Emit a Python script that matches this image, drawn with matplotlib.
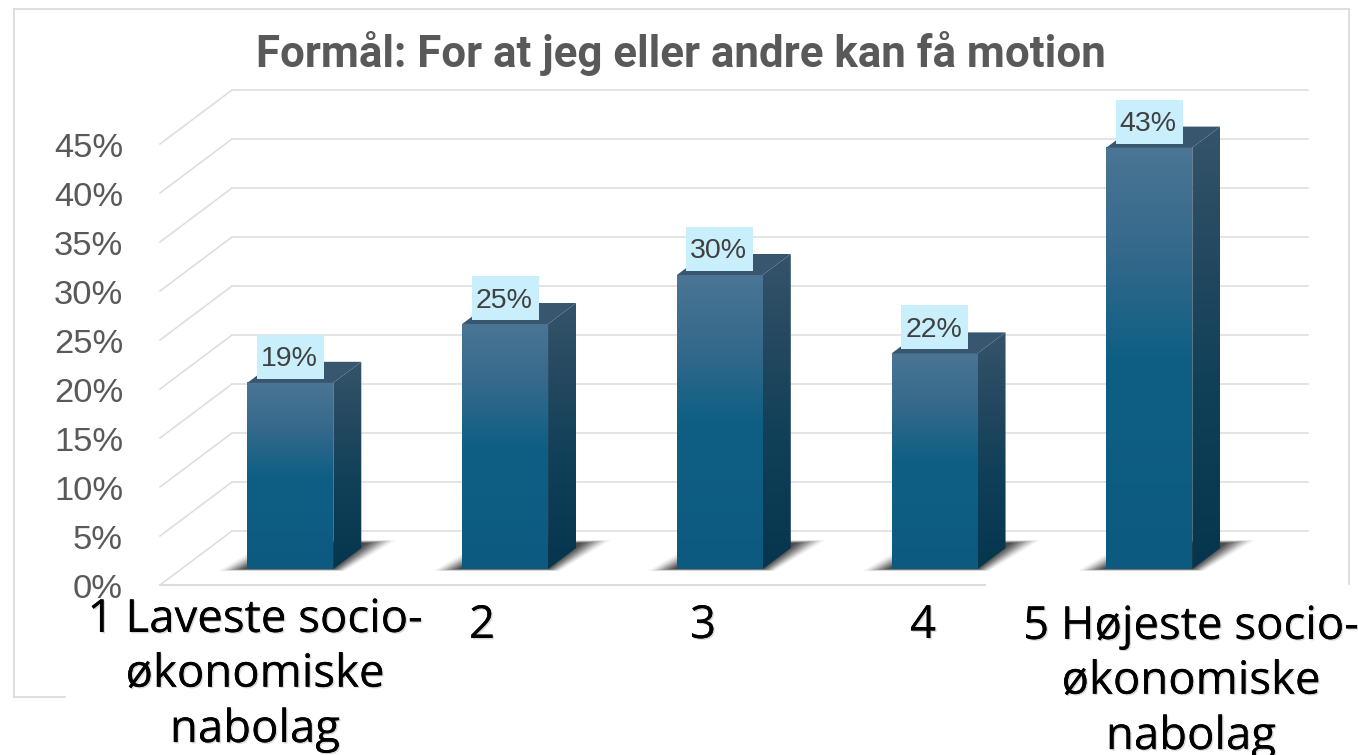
import numpy as np
import matplotlib
matplotlib.use('Agg')
import matplotlib.pyplot as plt
import matplotlib.patheffects as pe
from matplotlib.colors import LinearSegmentedColormap
from matplotlib.lines import Line2D
from matplotlib.patches import Polygon, Rectangle
from matplotlib.transforms import ScaledTranslation

W, H = 1358, 755

title = 'Formål: For at jeg eller andre kan få motion'
values = [19, 25, 30, 22, 43]
value_labels = ['19%', '25%', '30%', '22%', '43%']
y_ticks = [0, 5, 10, 15, 20, 25, 30, 35, 40, 45]
y_labels = ['0%', '5%', '10%', '15%', '20%', '25%', '30%', '35%', '40%', '45%']
cat_labels = ['1 Laveste socio-\nøkonomiske\nnabolag', '2', '3', '4',
              '5 Højeste socio-\nøkonomiske\nnabolag']

# pixel layout of the picture
cat_px = [(255, 675), (482, 626), (703, 626), (923, 626), (1191, 682)]
left, right, base, top = 160, 1308, 585, 144
xpx0, xstep = 269, 214.75
ystep = 9.8
floor_dx, floor_dy = 72, 54

fig = plt.figure(figsize=(W/100, H/100), dpi=100, facecolor='white')
ax = fig.add_axes([left/W, 1-base/H, (right-left)/W, (base-top)/H])
xlim = ((left-xpx0)/xstep, (right-xpx0)/xstep)
ylim = (0, (base-top)/ystep)
ux, uy = floor_dx/xstep, floor_dy/ystep


def proj(x, y, d):
    # d is depth into the floor, 0 front edge, 1 back wall
    return x + d*ux, y + d*uy


grid_c = '#dcdcdc'
for t in y_ticks:
    a = proj(xlim[0], t, 0)
    b = proj(xlim[0], t, 1)
    ax.plot([a[0], b[0]], [a[1], b[1]], color=grid_c, lw=1.1, clip_on=False, zorder=1)
    ax.plot([b[0], xlim[1]], [b[1], b[1]], color=grid_c, lw=1.1, clip_on=False, zorder=1)
ax.plot([xlim[0], (985-xpx0)/xstep], [0, 0], color=grid_c, lw=1.5, clip_on=False, zorder=1)

front_cm = LinearSegmentedColormap.from_list(
    'f', [(0, '#4b7594'), (0.25, '#34698b'), (0.5, '#0f5f85'), (1, '#0d5a80')])
side_cm = LinearSegmentedColormap.from_list(
    's', [(0, '#35546b'), (0.3, '#23485f'), (0.6, '#0f4058'), (1, '#06364d')])
grad = np.linspace(0, 1, 256).reshape(-1, 1)
hw = 0.2
d0, d1 = 16/floor_dy, 37/floor_dy

for i, v in enumerate(values):
    x0, y0 = proj(i-hw, 0, d0)
    x1, _ = proj(i+hw, 0, d0)
    y1 = y0 + v
    bx0, by0 = proj(i-hw, 0, d1)
    bx1, _ = proj(i+hw, 0, d1)
    by1 = by0 + v

    # soft shadow on the floor, stacked from the outer edge inwards
    n = 18
    for k in range(n):
        s = k/(n-1)
        bl = x0 - (30-27*s)/xstep
        br = x1 + 12*(1-s)/xstep
        tr = bx1 + (36-31*s)/xstep
        tl = bl + 52/xstep
        low = y0 - 2*(1-s)/ystep
        ty = by0 + (8-3*s)/ystep
        ax.add_patch(Polygon([(bl, low), (br, low), (tr, ty), (tl, ty)], closed=True,
                             fc='#1c1c1c', ec='none', alpha=0.015+0.13*s,
                             clip_on=False, zorder=2))

    ax.imshow(grad, cmap=front_cm, extent=(x0, x1, y0, y1), aspect='auto',
              origin='upper', zorder=4, clip_on=False)
    im = ax.imshow(grad, cmap=side_cm, extent=(x1, bx1, y0, by1), aspect='auto',
                   origin='upper', zorder=4)
    side = Polygon([(x1, y0), (bx1, by0), (bx1, by1), (x1, y1)], closed=True,
                   transform=ax.transData, fc='none', ec='none', clip_on=False)
    ax.add_patch(side)
    im.set_clip_path(side)
    im.set_clip_box(fig.bbox)
    ax.add_patch(Polygon([(x0, y1), (x1, y1), (bx1, by1), (bx0, by1)], closed=True,
                         fc='#38576e', ec='none', clip_on=False, zorder=4))

    # value label on pale blue box
    cx = proj(i, 0, d0)[0]
    cy = y1 + 26/ystep
    bw, bh = 67/xstep, 44/ystep
    ax.add_patch(Rectangle((cx-bw/2, cy-bh/2), bw, bh, fc='#c9eefc', ec='none',
                           clip_on=False, zorder=5))
    ax.text(cx-1/xstep, cy-2.5/ystep, value_labels[i], ha='center', va='center',
            fontsize=20.5, family='Liberation Sans', color='#404040', zorder=6, clip_on=False)

ax.set_xlim(xlim)
ax.set_ylim(ylim)
ax.patch.set_alpha(0)
for sp in ax.spines.values():
    sp.set_visible(False)
ax.set_xticks([])
ax.set_yticks(y_ticks)
ax.set_yticklabels(y_labels, family='Liberation Sans', fontsize=24.8, color='#595959')
ax.tick_params(axis='y', length=0, pad=26.6)
for lab in ax.get_yticklabels():
    lab.set_transform(lab.get_transform() + ScaledTranslation(0, -1/72, fig.dpi_scale_trans))

fig.text(681/W, 1-54/H, title, ha='center', va='center', fontsize=31.6,
         family='Roboto', fontweight='bold', color='#595959')

shadow = [pe.withSimplePatchShadow(offset=(1, -1), shadow_rgbFace='#909090', alpha=0.35),
          pe.Normal()]
for (px, py), lab in zip(cat_px, cat_labels):
    fig.text(px/W, 1-py/H, lab, ha='center', va='center', fontsize=32.8,
             family='Open Sans', color='black', linespacing=1.25,
             path_effects=shadow)

# what is left of the outer chart frame
frame_c = '#d9d9d9'
frame = [([14, 14], [9, 697]), ([14, 65], [697, 697]), ([14, 1349], [9, 9]), ([1349, 1349], [9, 584])]
for xs, ys in frame:
    fig.add_artist(Line2D([p/W for p in xs], [1-p/H for p in ys], color=frame_c, lw=1.2))

fig.savefig('out.png', dpi=100)
